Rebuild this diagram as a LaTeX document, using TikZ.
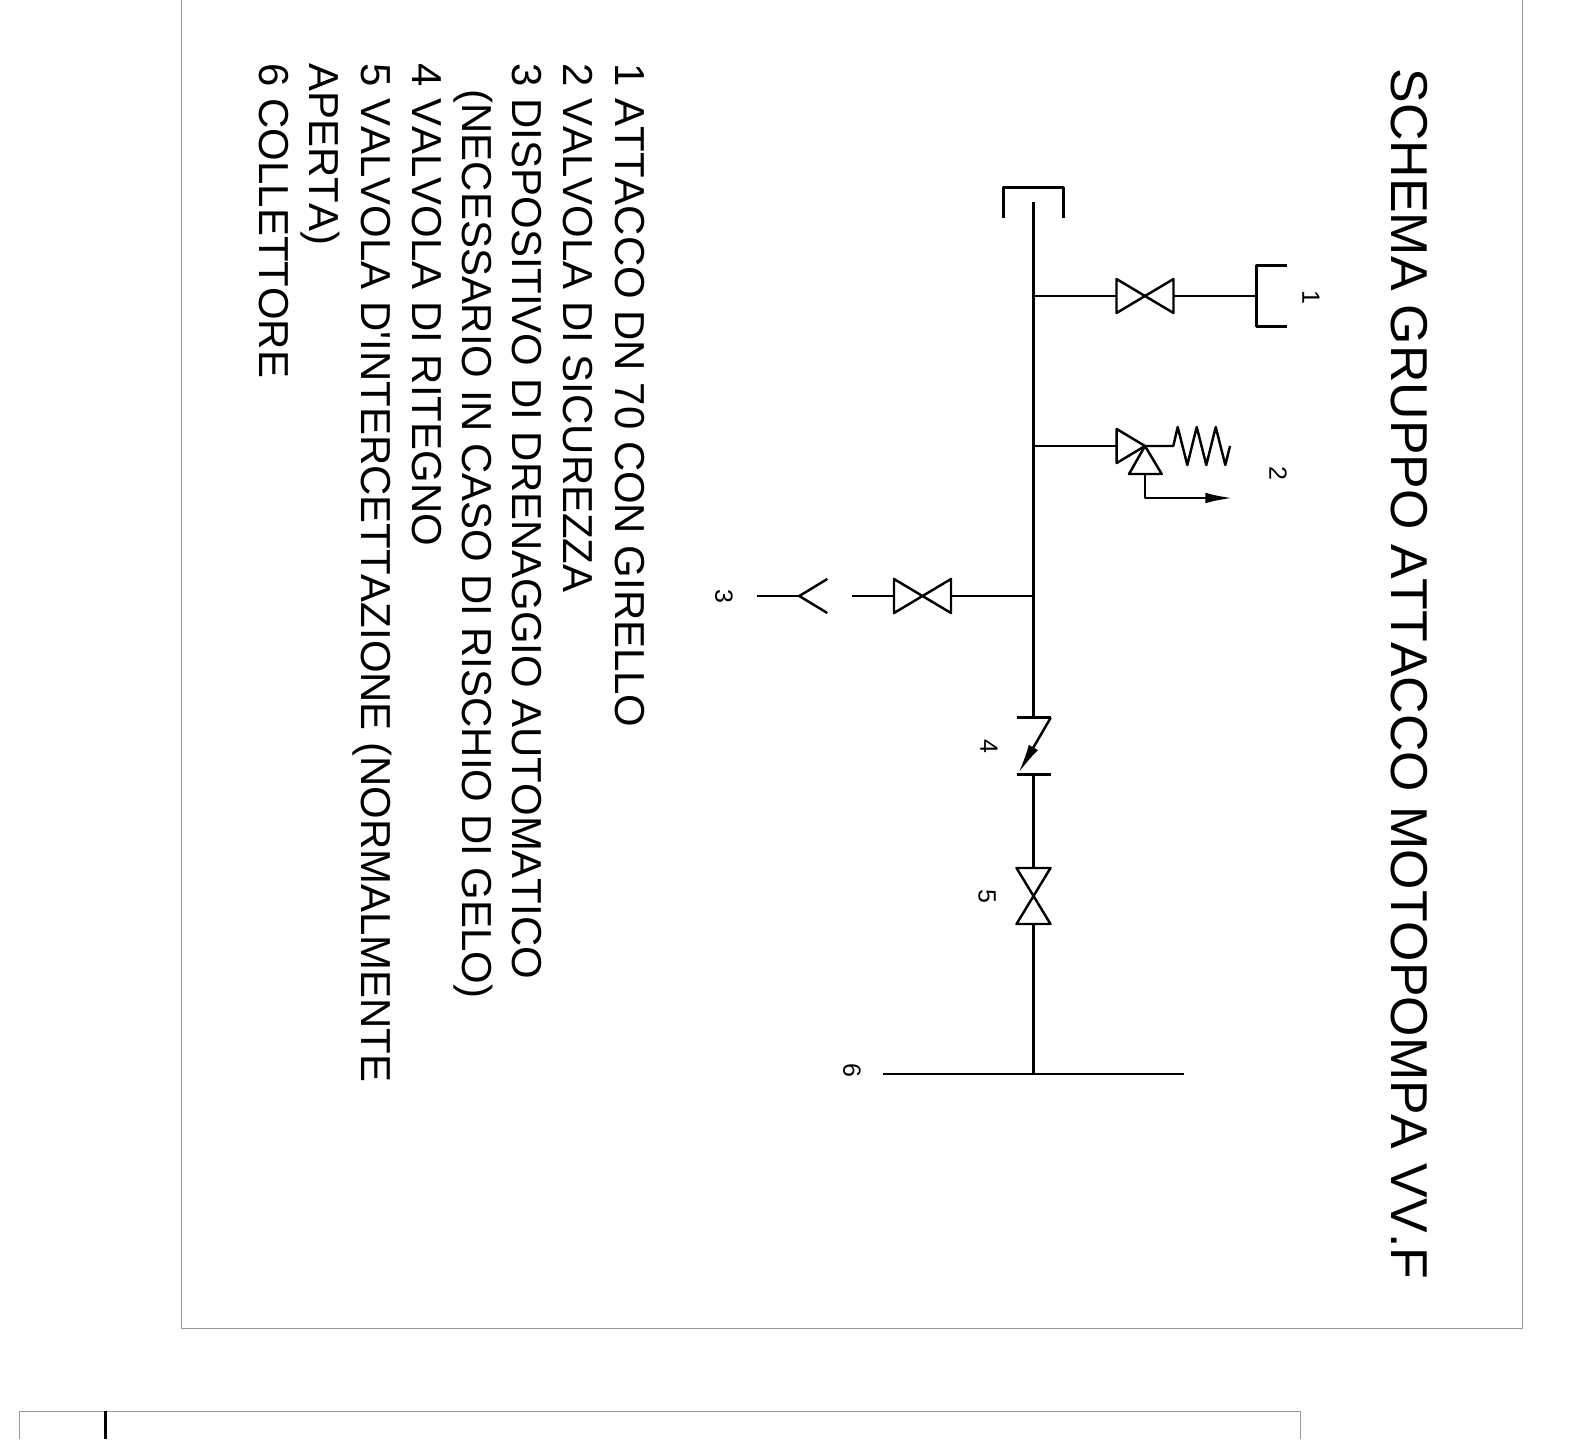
\documentclass[tikz,border=0pt]{standalone}
\usepackage{fontspec}
\setmainfont[Kerning=Off,Ligatures=TeXOff]{Liberation Sans}
\usetikzlibrary{arrows.meta}
\tikzstyle{pipe} = [line width=.7pt, line join=round, black]
\tikzstyle{frame} = [line width=.25pt, black!40]
\tikzstyle{titolo} = [rotate=-90, anchor=base west, inner sep=0pt, font=\fontsize{14.75}{18}\selectfont]
\tikzstyle{voce} = [rotate=-90, anchor=base west, inner sep=0pt, font=\fontsize{11.92}{15}\selectfont]
\tikzstyle{numero} = [rotate=-90, inner sep=0pt, font=\fontsize{7.1}{8}\selectfont]
\newcommand{\vlvh}[1]{\draw[pipe] (#1) ++(-28.5,-17) coordinate (#1a) -- ++(0,34) -- ++(57,-34) coordinate (#1b) -- ++(0,34) -- cycle;}
\newcommand{\vlvv}[1]{\draw[pipe] (#1) ++(-17,-28) coordinate (#1a) -- ++(34,0) -- ++(-34,56) coordinate (#1b) -- ++(34,0) -- cycle;}
\begin{document}
\begin{tikzpicture}[x=.01cm, y=-.01cm]
	\useasboundingbox (0,0) rectangle (1591,1439);
	\draw[frame] (181,0) -- (181,1328) -- (1522,1328) -- (1522,0);
	\draw[frame] (19,1439) -- (19,1411) -- (1300,1411) -- (1300,1439);
	\draw[line width=.85pt] (105.5,1411) -- (105.5,1439);
	% text
	\node[titolo] (tit) at (1391,68) {SCHEMA GRUPPO ATTACCO MOTOPOMPA VV.F};
	\node[voce] (l1) at (615,63) {1 ATTACCO DN 70 CON GIRELLO};
	\node[voce] (l2) at (563,63) {2 VALVOLA DI SICUREZZA};
	\node[voce] (l3) at (512,63) {3 DISPOSITIVO DI DRENAGGIO AUTOMATICO};
	\node[voce] (l3b) at (462,89) {(NECESSARIO IN CASO DI RISCHIO DI GELO)};
	\node[voce] (l4) at (412,63) {4 VALVOLA DI RITEGNO};
	\node[voce] (l5) at (361,63) {5 VALVOLA D'INTERCETTAZIONE (NORMALMENTE};
	\node[voce] (l5b) at (309,63) {APERTA)};
	\node[voce] (l6) at (259,63) {6 COLLETTORE};
	\node[numero] (n1) at (1311,297) {1};
	\node[numero] (n2) at (1278,473) {2};
	\node[numero] (n3) at (724,596) {3};
	\node[numero] (n4) at (989,746) {4};
	\node[numero] (n5) at (987,896) {5};
	\node[numero] (n6) at (852,1070) {6};
	% main pipe
	\coordinate (top) at (1033.5,202);
	\coordinate (j1) at (1033.5,296);
	\coordinate (j2) at (1033.5,446);
	\coordinate (j3) at (1033.5,596);
	\coordinate (cka) at (1033.5,717.7);
	\coordinate (ckb) at (1033.5,774.3);
	\coordinate (j6) at (1033.5,1074);
	\coordinate (hl) at (883,1074);
	\coordinate (hr) at (1184,1074);
	\coordinate (v1) at (1145,296);
	\coordinate (v3) at (922.5,596);
	\coordinate (v5) at (1033.5,896);
	\vlvh{v1} \vlvh{v3} \vlvv{v5}
	\draw[pipe] (top) -- (cka);
	\draw[pipe] (ckb) -- (v5a-|ckb);
	\draw[pipe] (v5b-|ckb) -- (j6);
	\draw[pipe] (hl) -- (hr);
	\draw[pipe] (1003.7,218) -- (1003.7,187.3) -- (1063.7,187.3) -- (1063.7,218);
	% branch 1
	\coordinate (cap1) at (1256.3,296);
	\draw[pipe] (j1) -- (v1a|-j1);
	\draw[pipe] (v1b|-j1) -- (cap1);
	\draw[pipe] (1286.7,265.7) -- (1256.3,265.7) -- (1256.3,326.3) -- (1286.7,326.3);
	% branch 2
	\coordinate (v2) at (1145,446);
	\coordinate (v2a) at (1116.7,446);
	\coordinate (sc) at (1145,498);
	\coordinate (se) at (1232.5,498);
	\draw[pipe] (j2) -- (v2a);
	\draw[pipe] (v2) -- (1116.7,429) -- (1116.7,463) -- cycle;
	\draw[pipe] (v2) -- (1129,474) -- (1161.7,474) -- cycle;
	\draw[pipe] (v2) -- (1173.3,446) -- (1177.7,427) -- (1187.3,465) -- (1196.7,427) -- (1206.3,465) -- (1215.7,427) -- (1225.3,465) -- (1230,446);
	\draw[pipe, -{Latex[length=7.7pt,width=3pt]}] (1145,474) -- (sc) -- (se);
	% branch 3
	\coordinate (y3) at (799.3,596);
	\draw[pipe] (j3) -- (v3b|-j3);
	\draw[pipe] (v3a|-j3) -- (852.3,596);
	\draw[pipe] (756.7,596) -- (y3);
	\draw[pipe] (827.3,579) -- (y3) -- (827.3,613);
	% check valve
	\draw[pipe] (1016.7,717.7) -- (1050.7,717.7);
	\draw[pipe] (1016.7,774.3) -- (1050.7,774.3);
	\draw[pipe, -{Latex[length=8.5pt,width=3pt]}] (1050.7,717.7) -- (1018.3,773.3);
\end{tikzpicture}
\end{document}
